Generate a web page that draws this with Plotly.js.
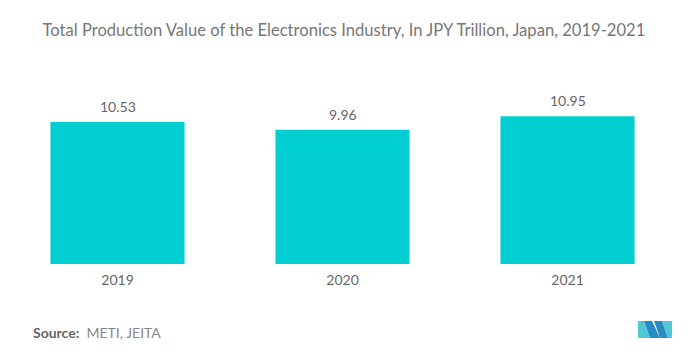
<!DOCTYPE html>
<html><head><meta charset="utf-8">
<script src="https://cdn.plot.ly/plotly-3.0.1.min.js"></script>
<style>html,body{margin:0;padding:0;background:#fff}#c{width:692px;height:359px}</style>
</head><body><div id="c"></div>
<script>
const years = ['2019', '2020', '2021'];
const values = [10.53, 9.96, 10.95];
const valueLabels = ['10.53', '9.96', '10.95'];

const L = 5, R = 680, T = 80, B = 264;
function px(x){ return (x - L) / (R - L); }
function py(y){ return (B - y) / (B - T); }
function path(pts){ return 'M' + pts.map(p => px(p[0]) + ',' + py(p[1])).join('L') + 'Z'; }

const shapes = [
  {type:'path', xref:'paper', yref:'paper', path: path([[638,321],[644,321],[650,338],[638,338]]), fillcolor:'#4fc8d4', line:{width:0}},
  {type:'path', xref:'paper', yref:'paper', path: path([[644,321],[652,321],[660,338],[650,338]]), fillcolor:'#2a8bc4', line:{width:0}},
  {type:'path', xref:'paper', yref:'paper', path: path([[654,321],[662,321],[668,338],[660,338]]), fillcolor:'#2a8bc4', line:{width:0}},
  {type:'path', xref:'paper', yref:'paper', path: path([[662,321],[672,321],[672,338],[668,338]]), fillcolor:'#4fc8d4', line:{width:0}}
];

// category axis: annotation x uses the category index
const labelAnnots = years.map((yr, i) => ({
  x: i, y: values[i], xref:'x', yref:'y', text: valueLabels[i], showarrow:false,
  yanchor:'bottom', yshift:5, font:{family:'Lato, sans-serif', size:14, color:'#666'}
}));

Plotly.newPlot('c', [{
  type:'bar', x: years, y: values,
  marker:{color:'#00ced1'}, hoverinfo:'none'
}], {
  width:692, height:359,
  margin:{l:L, r:692-R, t:T, b:359-B},
  paper_bgcolor:'#fff', plot_bgcolor:'#fff',
  bargap:0.404,
  title:{text:'Total Production Value of the Electronics Industry, In JPY Trillion, Japan, 2019-2021',
    font:{family:'Lato, sans-serif', size:16.6, color:'#777'}, x:0.497, xanchor:'center', y:0.915, yanchor:'middle'},
  xaxis:{type:'category', showgrid:false, zeroline:false, showline:false, ticks:'outside', ticklen:3, tickcolor:'rgba(0,0,0,0)',
    tickfont:{family:'Lato, sans-serif', size:14, color:'#666'}},
  yaxis:{range:[0, 13.64], visible:false, showgrid:false, zeroline:false},
  showlegend:false,
  shapes: shapes,
  annotations: labelAnnots.concat([
    {xref:'paper', yref:'paper', x:px(31), y:py(332), xanchor:'left', yanchor:'middle', showarrow:false,
     text:'<b>Source:</b>  <span style="color:#888">METI, JEITA</span>', font:{family:'Lato, sans-serif', size:14, color:'#666'}}
  ])
}, {displayModeBar:false, staticPlot:true});
</script></body></html>
